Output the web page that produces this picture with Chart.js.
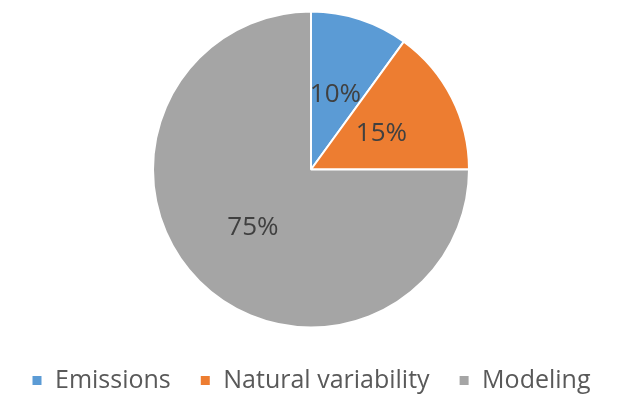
<!DOCTYPE html>
<html>
<head>
<meta charset="utf-8">
<script src="https://cdn.jsdelivr.net/npm/chart.js@4"></script>
<style>
  html, body { margin: 0; padding: 0; background: #fff; }
  #wrap { width: 622px; height: 398px; }
</style>
</head>
<body>
<div id="wrap"><canvas id="pie"></canvas></div>
<script>
const categories = ['Emissions', 'Natural variability', 'Modeling'];
const shares = [10, 15, 75];
const labelTexts = ['10%', '15%', '75%'];
const colors = ['#5B9BD5', '#ED7D31', '#A5A5A5'];

// draws the percentage text inside each slice
const sliceLabels = {
  id: 'sliceLabels',
  afterDatasetsDraw(chart) {
    const ctx = chart.ctx;
    const meta = chart.getDatasetMeta(0);
    const depth = [0.5, 0.5, 0.52];
    ctx.save();
    ctx.font = '26px "Open Sans", sans-serif';
    ctx.fillStyle = '#404040';
    ctx.textAlign = 'center';
    ctx.textBaseline = 'middle';
    meta.data.forEach((arc, i) => {
      const p = arc.getProps(['x', 'y', 'startAngle', 'endAngle', 'outerRadius'], true);
      const mid = (p.startAngle + p.endAngle) / 2;
      const r = p.outerRadius * depth[i];
      ctx.fillText(labelTexts[i], p.x + Math.cos(mid) * r, p.y + Math.sin(mid) * r);
    });
    ctx.restore();
  }
};

new Chart(document.getElementById('pie'), {
  type: 'pie',
  data: {
    labels: categories,
    datasets: [{
      data: shares,
      backgroundColor: colors,
      borderColor: '#ffffff',
      borderWidth: 2,
      radius: 158
    }]
  },
  options: {
    responsive: true,
    maintainAspectRatio: false,
    animation: false,
    layout: { padding: { top: -16, bottom: -5 } },
    plugins: {
      tooltip: { enabled: false },
      legend: {
        position: 'bottom',
        labels: {
          boxWidth: 11,
          boxHeight: 11,
          padding: 29,
          color: '#595959',
          font: { size: 25, family: '"Open Sans", sans-serif' }
        }
      }
    }
  },
  plugins: [sliceLabels]
});
</script>
</body>
</html>
